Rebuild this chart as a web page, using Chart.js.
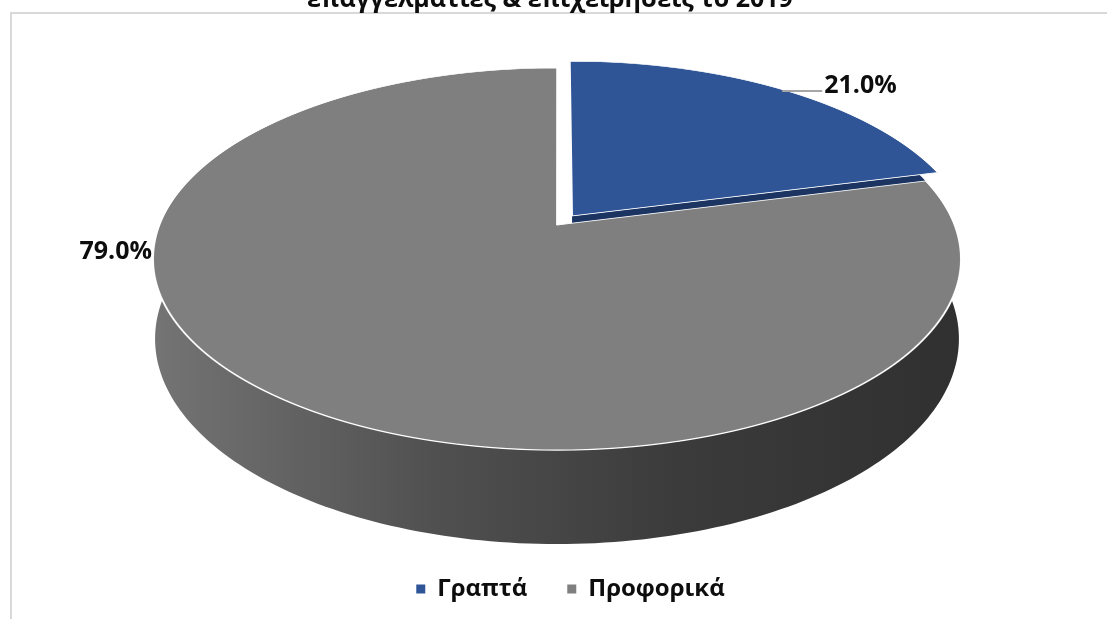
<!DOCTYPE html>
<html><head><meta charset="utf-8">
<script src="https://cdn.jsdelivr.net/npm/chart.js@4.4.1/dist/chart.umd.min.js"></script>
<style>html,body{margin:0;padding:0;background:#fff;}#wrap{position:relative;width:1107px;height:619px;overflow:hidden}</style>
</head><body><div id="wrap"><canvas id="c" width="1107" height="619"></canvas></div>
<script>
const titleText = 'επαγγελματίες & επιχειρήσεις το 2019';
const categories = ['Γραπτά', 'Προφορικά'];
const shares = [21.0, 79.0];
const topColors = ['#2f5597', '#7f7f7f'];
const sideColors = ['#1c3461', '#555555'];
const labelTexts = shares.map(v => v.toFixed(1) + '%');

// perspective view of the pie disc (screen pixels)
// cx,cy: projected centre of the disc; A,B: horizontal / vertical scale; k: perspective strength
const GEO = {cx: 557, cy: 225, A: 397.5, B: 185, k: 0.178, depth: 94, shrink: 0.995, r0: 100, explode: 25};
const FONT = "'Open Sans', 'Noto Sans', sans-serif";

const effOffset = arc => (arc.options.offset || 0) / 4;   // Chart.js v4 arcs move by offset/4
const persp = v => 1 / (1 - GEO.k * v);
const proj = (u, v) => { const s = persp(v); return [GEO.cx + GEO.A * u * s, GEO.cy + GEO.B * v * s]; };
const outline = () => {
  const top = GEO.cy - GEO.B / (1 + GEO.k), bot = GEO.cy + GEO.B / (1 - GEO.k);
  return {x: GEO.cx, y: (top + bot) / 2, rx: GEO.A / Math.sqrt(1 - GEO.k * GEO.k), ry: (bot - top) / 2, top, bot};
};

function rimPoint(arc, ang, r) {
  const off = effOffset(arc) / arc.outerRadius;
  const mid = (arc.startAngle + arc.endAngle) / 2;
  return proj(Math.cos(mid) * off + Math.cos(ang) * r, Math.sin(mid) * off + Math.sin(ang) * r);
}
function lowerPoint(p) {
  const v = (p[1] - GEO.cy) / (GEO.B + GEO.k * (p[1] - GEO.cy));
  return [GEO.cx + (p[0] - GEO.cx) * GEO.shrink, p[1] + GEO.depth * persp(v) / persp(1)];
}

const pie3d = {
  id: 'pie3d',
  beforeDraw(chart) {
    const ctx = chart.ctx;
    ctx.save();
    ctx.fillStyle = '#fff';
    ctx.fillRect(0, 0, chart.width, chart.height);
    ctx.strokeStyle = '#d9d9d9';
    ctx.lineWidth = 2;
    ctx.strokeRect(11, 13, chart.width + 40, chart.height + 40);
    ctx.restore();
  },
  beforeDatasetsDraw(chart) {
    const ctx = chart.ctx;
    const arcs = chart.getDatasetMeta(0).data;
    const a0 = arcs[0];
    const r0 = a0.outerRadius;
    const ol = outline();
    // side walls
    arcs.forEach((arc, i) => {
      ctx.save();
      if (effOffset(arc) > 0) {
        ctx.beginPath();
        ctx.ellipse(ol.x, ol.y, ol.rx, ol.ry, 0, 0, Math.PI * 2);
        ctx.clip();
      }
      const faces = [];
      if (Math.sin(arc.startAngle - Math.PI / 2) > 0.01) faces.push(arc.startAngle);
      if (Math.sin(arc.endAngle + Math.PI / 2) > 0.01) faces.push(arc.endAngle);
      faces.forEach(ang => {
        const c = rimPoint(arc, ang, 0), p = rimPoint(arc, ang, 1);
        const cl = lowerPoint(c), pl = lowerPoint(p);
        ctx.beginPath();
        ctx.moveTo(c[0], c[1]); ctx.lineTo(p[0], p[1]);
        ctx.lineTo(pl[0], pl[1]); ctx.lineTo(cl[0], cl[1]);
        ctx.closePath();
        ctx.fillStyle = sideColors[i];
        ctx.fill();
      });
      [-2 * Math.PI, 0, 2 * Math.PI].forEach(k => {
        const s = Math.max(arc.startAngle, k - 0.02), e = Math.min(arc.endAngle, k + Math.PI + 0.02);
        if (e - s <= 0.001) return;
        const N = 160;
        const topPts = [];
        for (let j = 0; j <= N; j++) topPts.push(rimPoint(arc, s + (e - s) * j / N, 1));
        ctx.beginPath();
        topPts.forEach((p, j) => j ? ctx.lineTo(p[0], p[1]) : ctx.moveTo(p[0], p[1]));
        for (let j = N; j >= 0; j--) { const q = lowerPoint(topPts[j]); ctx.lineTo(q[0], q[1]); }
        ctx.closePath();
        if (i === 1) {
          const g = ctx.createLinearGradient(ol.x - ol.rx, 0, ol.x + ol.rx, 0);
          g.addColorStop(0, '#747474');
          g.addColorStop(0.35, '#505050');
          g.addColorStop(0.65, '#3b3b3b');
          g.addColorStop(1, '#303030');
          ctx.fillStyle = g;
        } else {
          ctx.fillStyle = sideColors[i];
        }
        ctx.fill();
      });
      ctx.restore();
    });
    // top faces: the library's arc elements, drawn row by row under the perspective mapping
    const W = chart.width;
    const yStart = Math.floor(ol.top - 20), yEnd = Math.ceil(ol.bot + 4);
    for (let y = yStart; y < yEnd; y++) {
      const dy = y + 0.5 - GEO.cy;
      const v0 = dy / (GEO.B + GEO.k * dy);
      const s = persp(v0);
      ctx.save();
      ctx.beginPath();
      ctx.rect(0, y, W, 1);
      ctx.clip();
      ctx.translate(GEO.cx, y + 0.5 - GEO.B * s * s * v0);
      ctx.scale(GEO.A * s / r0, GEO.B * s * s / r0);
      ctx.translate(-a0.x, -a0.y);
      arcs.forEach(a => a.draw(ctx));
      ctx.restore();
    }
    return false;
  },
  afterDraw(chart) {
    const ctx = chart.ctx;
    const arcs = chart.getDatasetMeta(0).data;
    const ol = outline();
    ctx.save();
    ctx.fillStyle = '#0d0d0d';
    // title (top part cut off by the frame edge as in the original)
    ctx.font = 'bold 25px ' + FONT;
    ctx.textAlign = 'center';
    ctx.textBaseline = 'alphabetic';
    ctx.fillText(titleText, 550, 7);
    // data labels
    ctx.textBaseline = 'middle';
    arcs.forEach((arc, i) => {
      if (i === 0) {
        const ang = (arc.startAngle + arc.endAngle) / 2;
        const p = rimPoint(arc, ang, 1);
        ctx.strokeStyle = '#a6a6a6';
        ctx.lineWidth = 2;
        ctx.beginPath();
        ctx.moveTo(p[0], p[1] + 1); ctx.lineTo(p[0] + 40, p[1] + 1);
        ctx.stroke();
        ctx.textAlign = 'left';
        ctx.fillText(labelTexts[i], p[0] + 42, p[1] - 4);
      } else {
        ctx.textAlign = 'right';
        ctx.fillText(labelTexts[i], ol.x - ol.rx - 1, ol.y - 7);
      }
    });
    ctx.restore();
  }
};

new Chart(document.getElementById('c'), {
  type: 'pie',
  data: {
    labels: categories,
    datasets: [{
      data: shares,
      backgroundColor: topColors,
      borderColor: '#ffffff',
      borderWidth: 0.45,
      offset: [GEO.explode, 0],
      radius: GEO.r0,
      clip: false
    }]
  },
  options: {
    responsive: false,
    animation: false,
    events: [],
    layout: {padding: {top: 20, bottom: 8, left: 34, right: 0}},
    plugins: {
      tooltip: {enabled: false},
      title: {display: false},
      legend: {
        position: 'bottom',
        labels: {
          color: '#0d0d0d',
          boxWidth: 9,
          boxHeight: 9,
          padding: 40,
          font: {family: FONT, size: 24, weight: 'bold'},
          generateLabels(chart) {
            return Chart.overrides.pie.plugins.legend.labels.generateLabels(chart)
              .map(it => Object.assign(it, {lineWidth: 0, strokeStyle: 'rgba(0,0,0,0)'}));
          }
        }
      }
    }
  },
  plugins: [pie3d]
});
</script>
</body></html>
